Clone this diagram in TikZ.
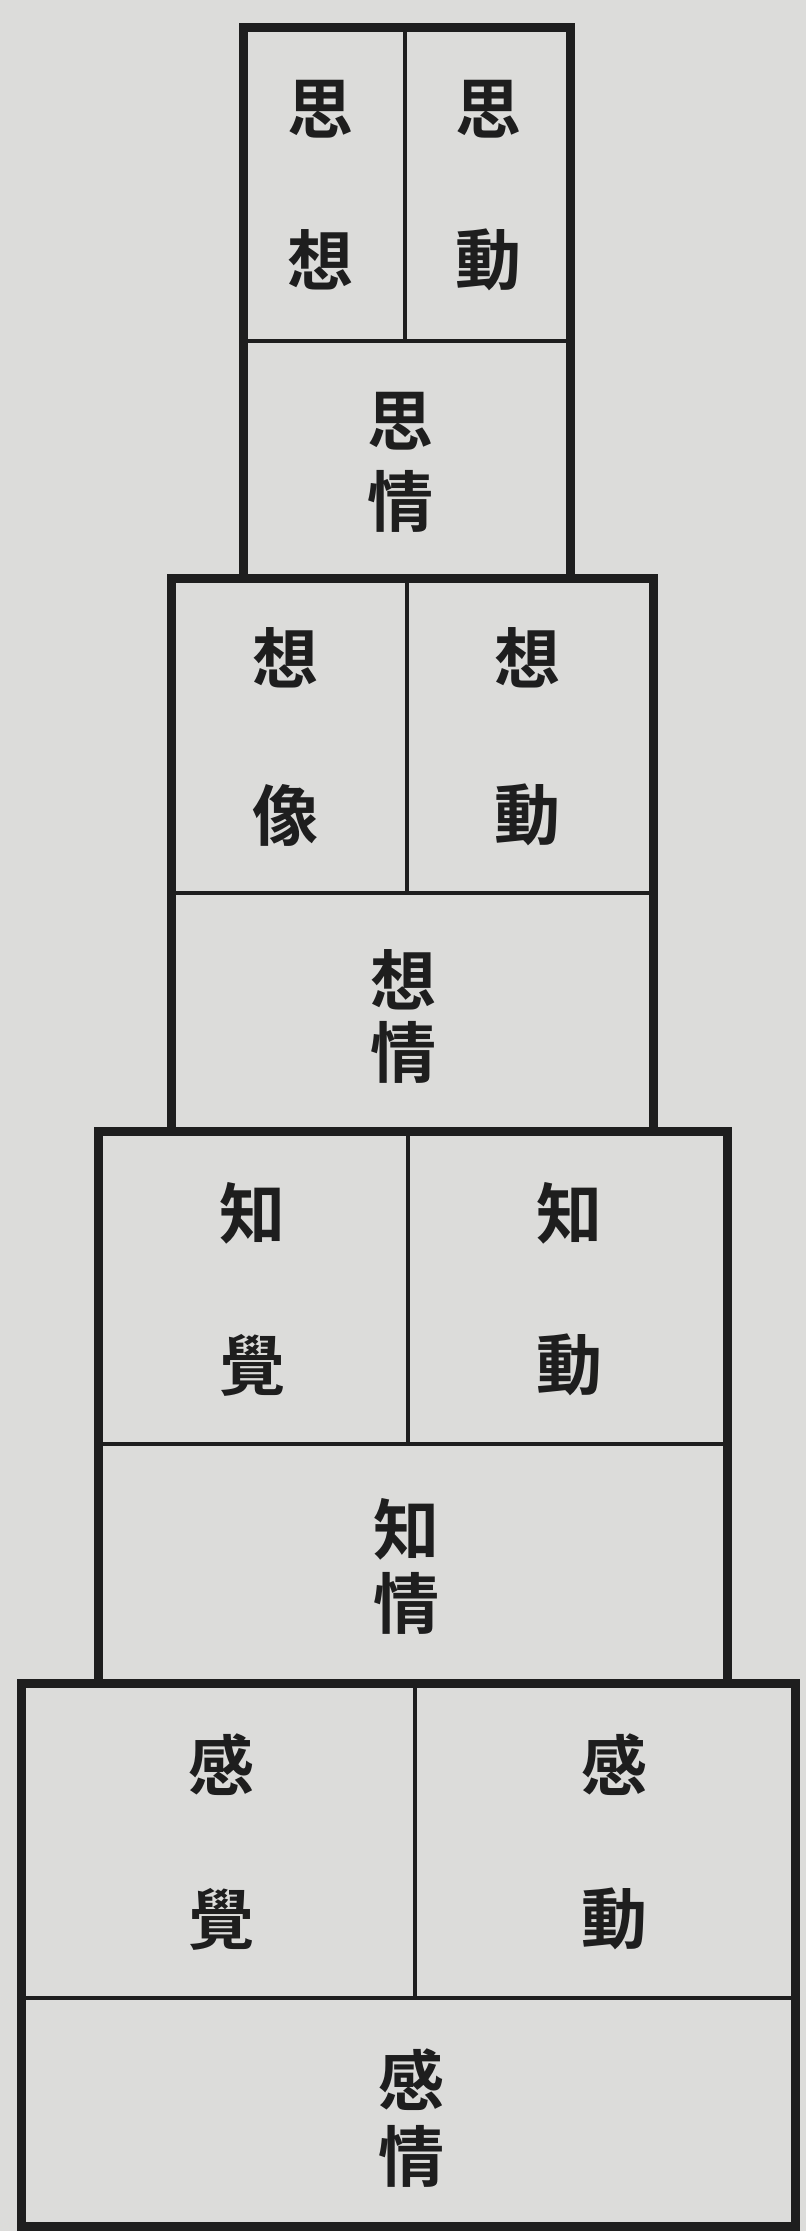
\documentclass[tikz,border=0pt]{standalone}
\usepackage{fontspec}
\newfontfamily\cjk{Noto Sans CJK JP Bold}
\definecolor{paper}{HTML}{DCDCDA}
\definecolor{ink}{HTML}{1E1E1E}
\tikzset{
  wall/.style={draw=ink, line width=9pt, line join=miter},
  divline/.style={draw=ink, line width=3.5pt},
  ch/.style={font=\cjk\fontsize{66}{66}\selectfont, inner sep=0pt, text=ink}
}
\begin{document}
\begin{tikzpicture}[x=1pt, y=-1pt]
\useasboundingbox (0,0) rectangle (806,2231);
\fill[paper] (0,0) rectangle (806,2231);
% tier 1
\draw[wall] (243,578) -- (243,27) -- (570,27) -- (570,574);
\draw[divline] (405,31) -- (405,341);
\draw[divline] (247,341) -- (566,341);
\node[ch] (a1) at (320,109) {思};
\node[ch] (a2) at (320,260) {想};
\node[ch] (b1) at (488,109) {思};
\node[ch] (b2) at (488,260) {動};
\node[ch] (c1) at (400,421) {思};
\node[ch] (c2) at (400,501) {情};
% tier 2
\draw[wall] (171,1131) -- (171,578) -- (653,578) -- (653,1127);
\draw[divline] (407,582) -- (407,893);
\draw[divline] (175,893) -- (649,893);
\node[ch] (d1) at (285,658) {想};
\node[ch] (d2) at (285,815) {像};
\node[ch] (e1) at (527,658) {想};
\node[ch] (e2) at (527,815) {動};
\node[ch] (f1) at (403,980) {想};
\node[ch] (f2) at (403,1052) {情};
% tier 3
\draw[wall] (98,1683) -- (98,1131) -- (727,1131) -- (727,1679);
\draw[divline] (408,1135) -- (408,1444);
\draw[divline] (102,1444) -- (723,1444);
\node[ch] (g1) at (252,1213) {知};
\node[ch] (g2) at (252,1365) {覺};
\node[ch] (h1) at (569,1213) {知};
\node[ch] (h2) at (569,1365) {動};
\node[ch] (i1) at (406,1529) {知};
\node[ch] (i2) at (406,1603) {情};
% tier 4
\draw[wall] (21,1683) rectangle (795,2226);
\draw[divline] (415,1687) -- (415,1998);
\draw[divline] (25,1998) -- (791,1998);
\node[ch] (j1) at (221,1765) {感};
\node[ch] (j2) at (221,1919) {覺};
\node[ch] (k1) at (614,1765) {感};
\node[ch] (k2) at (614,1919) {動};
\node[ch] (l1) at (411,2080) {感};
\node[ch] (l2) at (411,2156) {情};
\end{tikzpicture}
\end{document}
